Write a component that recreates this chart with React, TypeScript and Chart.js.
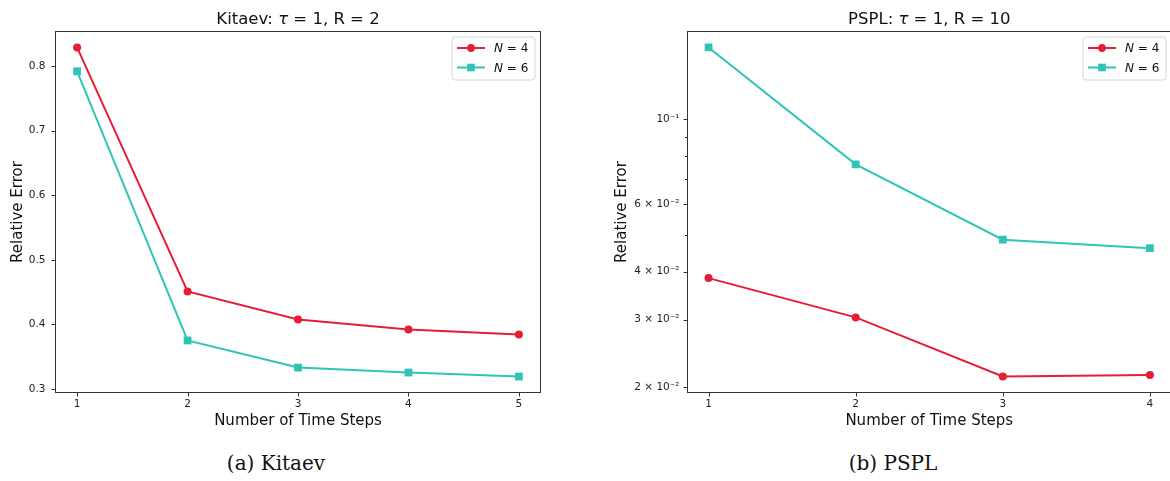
import React, { useEffect, useRef } from "react";
import { Chart, registerables } from "chart.js";

Chart.register(...registerables);

// ---------------- data ----------------
const kitaevSteps = [1, 2, 3, 4, 5];
const kitaevN4 = [0.829, 0.451, 0.4075, 0.392, 0.3843];
const kitaevN6 = [0.792, 0.375, 0.333, 0.3253, 0.3191];
const kitaevYTicks = [0.3, 0.4, 0.5, 0.6, 0.7, 0.8];
const kitaevYLabels = ["0.3", "0.4", "0.5", "0.6", "0.7", "0.8"];

const psplSteps = [1, 2, 3, 4];
const psplN4 = [0.0385, 0.0304, 0.0213, 0.0215];
const psplN6 = [0.1541, 0.0763, 0.0485, 0.0461];
const psplYTicks = [0.02, 0.03, 0.04, 0.05, 0.06, 0.07, 0.08, 0.09, 0.1];
const psplYLabels = ["2 × 10⁻²", "3 × 10⁻²", "4 × 10⁻²", "", "6 × 10⁻²", "", "", "", "10⁻¹"];

const seriesN = ["4", "6"];
const RED = "#E71D36";
const TEAL = "#2EC4B6";
const FONT = '"DejaVu Sans", sans-serif';

// ---------------- helpers ----------------
function linRange(vals: number[]) {
  const lo = Math.min(...vals), hi = Math.max(...vals);
  const m = (hi - lo) * 0.05;
  return [lo - m, hi + m];
}
function logRange(vals: number[]) {
  const lo = Math.log10(Math.min(...vals)), hi = Math.log10(Math.max(...vals));
  const m = (hi - lo) * 0.05;
  return [Math.pow(10, lo - m), Math.pow(10, hi + m)];
}

const decorPlugin = {
  id: "decor",
  afterDraw(chart: any, _args: any, opts: any) {
    const { ctx, chartArea: a } = chart;
    ctx.save();
    const L = Math.round(a.left) + 0.5, R = Math.round(a.right) - 0.5;
    const T = Math.round(a.top) + 0.5, B = Math.round(a.bottom) - 0.5;
    // ticks
    ctx.strokeStyle = "#333";
    ctx.lineWidth = 1;
    const xs = chart.scales.x;
    xs.ticks.forEach((t: any) => {
      const px = Math.round(xs.getPixelForValue(t.value)) + 0.5;
      ctx.beginPath();
      ctx.moveTo(px, B);
      ctx.lineTo(px, B + 4);
      ctx.stroke();
    });
    const ys = chart.scales.y;
    ys.ticks.forEach((t: any) => {
      const py = Math.round(ys.getPixelForValue(t.value)) + 0.5;
      const len = t.label ? 4 : 2.5;
      ctx.beginPath();
      ctx.moveTo(L, py);
      ctx.lineTo(L - len, py);
      ctx.stroke();
    });
    // frame
    ctx.strokeStyle = "#333";
    ctx.strokeRect(L, T, R - L, B - T);

    // title
    const segs: { t: string; i: boolean }[] = opts.title;
    const tsize = 16.5;
    let total = 0;
    segs.forEach((s) => {
      ctx.font = `${s.i ? "italic " : ""}${tsize}px ${FONT}`;
      total += ctx.measureText(s.t).width;
    });
    let tx = (a.left + a.right) / 2 - total / 2;
    ctx.fillStyle = "#111";
    ctx.textBaseline = "alphabetic";
    ctx.textAlign = "left";
    segs.forEach((s) => {
      ctx.font = `${s.i ? "italic " : ""}${tsize}px ${FONT}`;
      ctx.fillText(s.t, tx, 23.5);
      tx += ctx.measureText(s.t).width;
    });

    // legend
    const bw = 83, bh = 43;
    const bx = a.right - 6 - bw, by = a.top + 6;
    ctx.beginPath();
    const r = 3;
    ctx.moveTo(bx + r, by);
    ctx.lineTo(bx + bw - r, by);
    ctx.quadraticCurveTo(bx + bw, by, bx + bw, by + r);
    ctx.lineTo(bx + bw, by + bh - r);
    ctx.quadraticCurveTo(bx + bw, by + bh, bx + bw - r, by + bh);
    ctx.lineTo(bx + r, by + bh);
    ctx.quadraticCurveTo(bx, by + bh, bx, by + bh - r);
    ctx.lineTo(bx, by + r);
    ctx.quadraticCurveTo(bx, by, bx + r, by);
    ctx.closePath();
    ctx.fillStyle = "rgba(255,255,255,0.8)";
    ctx.fill();
    ctx.strokeStyle = "#d6d6d6";
    ctx.lineWidth = 1;
    ctx.stroke();

    chart.data.datasets.forEach((ds: any, i: number) => {
      const cy = by + 11 + i * 19.5;
      ctx.strokeStyle = ds.borderColor;
      ctx.lineWidth = ds.borderWidth;
      ctx.beginPath();
      ctx.moveTo(bx + 5, cy);
      ctx.lineTo(bx + 33, cy);
      ctx.stroke();
      ctx.fillStyle = ds.borderColor;
      if (ds.pointStyle === "rect") {
        ctx.fillRect(bx + 19 - 3.8, cy - 3.8, 7.6, 7.6);
      } else {
        ctx.beginPath();
        ctx.arc(bx + 19, cy, 3.9, 0, Math.PI * 2);
        ctx.fill();
      }
      ctx.fillStyle = "#111";
      ctx.font = `italic 12px ${FONT}`;
      ctx.fillText("N", bx + 42, cy + 4.4);
      const w = ctx.measureText("N").width;
      ctx.font = `12px ${FONT}`;
      ctx.fillText(" = " + seriesN[i], bx + 42 + w, cy + 4.4);
    });
    ctx.restore();
  },
};

type PanelProps = {
  left: number;
  width: number;
  yAxisWidth: number;
  yTitlePad: number;
  yTickPad: number;
  rightPad: number;
  steps: number[];
  n4: number[];
  n6: number[];
  yTicks: number[];
  yLabels: string[];
  log: boolean;
  title: { t: string; i: boolean }[];
};

function Panel(p: PanelProps) {
  const ref = useRef<HTMLCanvasElement>(null);
  useEffect(() => {
    const [ymin, ymax] = p.log ? logRange([...p.n4, ...p.n6]) : linRange([...p.n4, ...p.n6]);
    const [xmin, xmax] = linRange(p.steps);
    const chart = new Chart(ref.current!, {
      type: "line",
      data: {
        datasets: [
          {
            label: "N = 4",
            data: p.steps.map((s, i) => ({ x: s, y: p.n4[i] })),
            borderColor: RED,
            backgroundColor: RED,
            borderWidth: 2,
            pointStyle: "circle",
            pointRadius: 4,
            pointBorderWidth: 0,
            pointHoverRadius: 4,
          },
          {
            label: "N = 6",
            data: p.steps.map((s, i) => ({ x: s, y: p.n6[i] })),
            borderColor: TEAL,
            backgroundColor: TEAL,
            borderWidth: 2,
            pointStyle: "rect",
            pointRadius: 5.5,
            pointBorderWidth: 0,
            pointHoverRadius: 5.5,
          },
        ],
      },
      options: {
        animation: false,
        responsive: false,
        events: [],
        layout: { padding: { top: 31, left: 0, right: p.rightPad, bottom: 7 } },
        plugins: {
          legend: { display: false },
          tooltip: { enabled: false },
          title: { display: false },
          decor: { title: p.title },
        } as any,
        scales: {
          x: {
            type: "linear",
            min: xmin,
            max: xmax,
            bounds: "data",
            afterBuildTicks: (s: any) => {
              s.ticks = p.steps.map((v) => ({ value: v }));
            },
            afterFit: (s: any) => {
              s.height = 40;
            },
            grid: { display: false, drawTicks: false, tickLength: 0 },
            border: { display: false },
            ticks: {
              font: { family: FONT, size: 10.5 },
              color: "#222",
              padding: 5,
              autoSkip: false,
              maxRotation: 0,
              callback: (v: any) => String(v),
            },
            title: {
              display: true,
              text: "Number of Time Steps",
              font: { family: FONT, size: 15 },
              color: "#111",
              padding: { top: 0, bottom: 2.5 },
            },
          },
          y: {
            type: p.log ? "logarithmic" : "linear",
            min: ymin,
            max: ymax,
            bounds: "data",
            afterBuildTicks: (s: any) => {
              s.ticks = p.yTicks.map((v) => ({ value: v }));
            },
            afterFit: (s: any) => {
              s.width = p.yAxisWidth;
            },
            grid: { display: false, drawTicks: false, tickLength: 0 },
            border: { display: false },
            ticks: {
              font: { family: FONT, size: 10.5 },
              color: "#222",
              padding: p.yTickPad,
              autoSkip: false,
              callback: (v: any) => {
                const i = p.yTicks.findIndex((t) => Math.abs(t - Number(v)) < 1e-9);
                return i >= 0 ? p.yLabels[i] : "";
              },
            },
            title: {
              display: true,
              text: "Relative Error",
              font: { family: FONT, size: 15 },
              color: "#111",
              padding: { top: p.yTitlePad, bottom: 0 },
            },
          },
        },
      } as any,
      plugins: [decorPlugin as any],
    });
    return () => chart.destroy();
  }, []);
  return (
    <canvas
      ref={ref}
      width={p.width}
      height={440}
      style={{ position: "absolute", left: p.left, top: 0, width: p.width, height: 440 }}
    />
  );
}

const captionStyle: React.CSSProperties = {
  position: "absolute",
  top: 453,
  fontFamily: '"DejaVu Serif", serif',
  fontSize: 20,
  lineHeight: "20px",
  textAlign: "center",
  color: "#111",
  whiteSpace: "nowrap",
};

export default function App() {
  return (
    <div
      style={{
        position: "absolute",
        left: 0,
        top: 0,
        width: 1170,
        height: 481,
        overflow: "hidden",
        background: "#fff",
      }}
    >
      <Panel
        left={0}
        width={560}
        yAxisWidth={55}
        yTitlePad={8.8}
        yTickPad={9.5}
        rightPad={19}
        steps={kitaevSteps}
        n4={kitaevN4}
        n6={kitaevN6}
        yTicks={kitaevYTicks}
        yLabels={kitaevYLabels}
        log={false}
        title={[
          { t: "Kitaev: ", i: false },
          { t: "τ", i: true },
          { t: " = 1, R = 2", i: false },
        ]}
      />
      <Panel
        left={596}
        width={600}
        yAxisWidth={90.5}
        yTitlePad={16.8}
        yTickPad={7}
        rightPad={24}
        steps={psplSteps}
        n4={psplN4}
        n6={psplN6}
        yTicks={psplYTicks}
        yLabels={psplYLabels}
        log={true}
        title={[
          { t: "PSPL: ", i: false },
          { t: "τ", i: true },
          { t: " = 1, R = 10", i: false },
        ]}
      />
      <div style={{ ...captionStyle, left: 0, width: 552 }}>(a) Kitaev</div>
      <div style={{ ...captionStyle, left: 616, width: 554 }}>(b) PSPL</div>
    </div>
  );
}
